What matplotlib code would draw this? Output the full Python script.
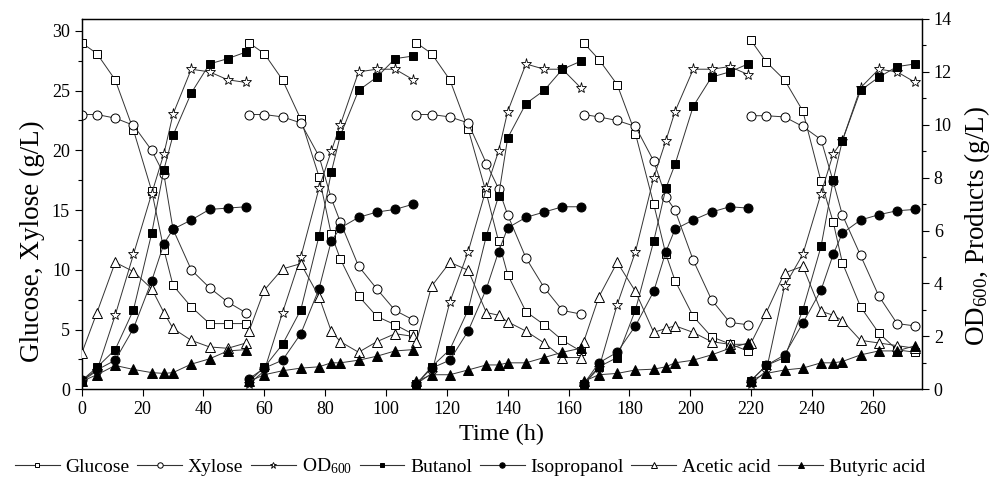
import numpy as np
import matplotlib
matplotlib.use("Agg")
import matplotlib.pyplot as plt
from matplotlib.lines import Line2D
from matplotlib.ticker import MultipleLocator

plt.rcParams['font.family'] = ['Liberation Serif', 'DejaVu Serif']
plt.rcParams['mathtext.fontset'] = 'custom'
plt.rcParams['mathtext.rm'] = 'Liberation Serif'
plt.rcParams['mathtext.it'] = 'Liberation Serif:italic'

# sampling hours within each batch, and the start of each batch
hours = [0, 5, 11, 17, 23, 27, 30, 36, 42, 48, 54]
batch_start = [0, 55, 110, 165, 220]

# left axis (g/L)
glucose = [
    [29.0, 28.1, 25.9, 21.7, 16.6, 11.7, 8.7, 6.9, 5.5, 5.5, 5.5],
    [29.0, 28.1, 25.9, 22.6, 17.8, 13.0, 10.9, 7.8, 6.1, 5.4, 4.6],
    [29.0, 28.1, 25.9, 21.8, 16.4, 12.4, 9.6, 6.5, 5.4, 4.1, 3.2],
    [29.0, 27.6, 25.5, 21.4, 15.5, 11.3, 9.1, 6.1, 4.4, 3.8, 3.2],
    [29.2, 27.4, 25.9, 23.3, 17.4, 14.0, 10.6, 6.9, 4.7, 3.3, 3.1],
]
xylose = [
    [23.0, 23.0, 22.7, 22.1, 20.0, 18.0, 13.4, 10.0, 8.5, 7.3, 6.4],
    [23.0, 23.0, 22.8, 22.3, 19.5, 16.0, 14.0, 10.3, 8.4, 6.6, 5.8],
    [23.0, 23.0, 22.8, 22.3, 18.9, 16.8, 14.6, 11.0, 8.5, 6.6, 6.3],
    [23.0, 22.8, 22.5, 22.0, 19.1, 16.1, 15.0, 10.8, 7.5, 5.6, 5.4],
    [22.9, 22.9, 22.8, 22.0, 20.9, 17.4, 14.6, 11.2, 7.8, 5.5, 5.3],
]

# right axis (OD600, g/L)
od600 = [
    [0.3, 0.7, 2.8, 5.1, 7.4, 8.9, 10.4, 12.1, 12.0, 11.7, 11.6],
    [0.2, 0.7, 2.9, 5.0, 7.6, 9.0, 10.0, 12.0, 12.1, 12.1, 11.7],
    [0.2, 0.6, 3.3, 5.2, 7.6, 9.0, 10.5, 12.3, 12.1, 12.1, 11.4],
    [0.2, 0.8, 3.2, 5.2, 8.0, 9.4, 10.5, 12.1, 12.1, 12.2, 11.9],
    [0.2, 0.7, 3.9, 5.1, 7.4, 8.9, 9.4, 11.4, 12.1, 12.0, 11.6],
]
butanol = [
    [0.33, 0.83, 1.5, 3.0, 5.9, 8.3, 9.6, 11.2, 12.3, 12.5, 12.75],
    [0.3, 0.83, 1.7, 3.0, 5.8, 8.2, 9.6, 11.3, 11.8, 12.5, 12.6],
    [0.2, 0.85, 1.5, 3.0, 5.8, 7.3, 9.5, 10.8, 11.3, 12.1, 12.4],
    [0.2, 0.85, 1.2, 3.0, 5.6, 7.6, 8.5, 10.7, 11.8, 12.0, 12.3],
    [0.33, 0.9, 1.2, 3.0, 5.4, 7.9, 9.4, 11.3, 11.8, 12.2, 12.3],
]
isopropanol = [
    [0.35, 0.73, 1.1, 2.3, 4.1, 5.5, 6.05, 6.4, 6.8, 6.85, 6.9],
    [0.4, 0.8, 1.1, 2.1, 3.8, 5.6, 6.1, 6.5, 6.7, 6.8, 7.0],
    [0.2, 0.8, 1.1, 2.2, 3.8, 5.2, 6.1, 6.5, 6.7, 6.9, 6.9],
    [0.2, 1.0, 1.4, 2.4, 3.7, 5.2, 6.05, 6.4, 6.7, 6.9, 6.85],
    [0.33, 0.9, 1.3, 2.5, 3.75, 5.1, 5.9, 6.4, 6.6, 6.75, 6.8],
]
acetic = [
    [1.36, 2.9, 4.8, 4.45, 3.8, 2.9, 2.3, 1.85, 1.6, 1.55, 1.75],
    [2.2, 3.75, 4.55, 4.75, 3.5, 2.2, 1.8, 1.4, 1.8, 2.1, 2.0],
    [1.8, 3.9, 4.8, 4.5, 2.9, 2.8, 2.55, 2.2, 1.75, 1.2, 1.2],
    [1.8, 3.5, 4.8, 3.7, 2.15, 2.3, 2.4, 2.15, 1.8, 1.7, 1.7],
    [1.75, 2.9, 4.4, 4.65, 2.95, 2.8, 2.6, 1.85, 1.75, 1.65, 1.55],
]
butyric = [
    [0.3, 0.55, 0.9, 0.75, 0.63, 0.6, 0.63, 0.95, 1.15, 1.45, 1.5],
    [0.3, 0.55, 0.7, 0.8, 0.85, 1.0, 1.0, 1.1, 1.25, 1.45, 1.5],
    [0.3, 0.55, 0.55, 0.73, 0.92, 0.92, 1.0, 1.0, 1.2, 1.4, 1.55],
    [0.3, 0.55, 0.6, 0.73, 0.76, 0.85, 1.0, 1.1, 1.3, 1.55, 1.75],
    [0.33, 0.6, 0.73, 0.8, 1.0, 1.0, 1.05, 1.3, 1.45, 1.45, 1.65],
]

fig = plt.figure(figsize=(9.98, 4.8), dpi=100)
ax = fig.add_axes([0.0819, 0.189, 0.842, 0.7715])
ax2 = ax.twinx()

line_kw = dict(color='#333333', lw=0.7)

series_left = [
    ("Glucose", glucose, dict(marker='s', ms=5.5, mfc='white', mec='black', mew=0.7)),
    ("Xylose", xylose, dict(marker='o', ms=6.5, mfc='white', mec='black', mew=0.7)),
]
series_right = [
    ("OD$_{600}$", od600, dict(marker='*', ms=8, mfc='white', mec='black', mew=0.6)),
    ("Butanol", butanol, dict(marker='s', ms=5.5, mfc='black', mec='black', mew=0.7)),
    ("Isopropanol", isopropanol, dict(marker='o', ms=6.5, mfc='black', mec='black', mew=0.7)),
    ("Acetic acid", acetic, dict(marker='^', ms=7, mfc='white', mec='black', mew=0.7)),
    ("Butyric acid", butyric, dict(marker='^', ms=7, mfc='black', mec='black', mew=0.7)),
]

# each batch is drawn on its own so the curves break between batches
styles = {}
for name, data, mk in series_left:
    for b, start in enumerate(batch_start):
        t = [start + h for h in hours]
        ax.plot(t, data[b], **line_kw, **mk, zorder=3)
    styles[name] = mk
for name, data, mk in series_right:
    for b, start in enumerate(batch_start):
        t = [start + h for h in hours]
        ax2.plot(t, data[b], **line_kw, **mk, zorder=3)
    styles[name] = mk

ax.set_xlim(0, 276.2)
ax.set_ylim(0, 31)
ax2.set_ylim(0, 14)

ax.xaxis.set_major_locator(MultipleLocator(20))
ax.yaxis.set_major_locator(MultipleLocator(5))
ax.yaxis.set_minor_locator(MultipleLocator(2.5))
ax2.yaxis.set_major_locator(MultipleLocator(2))
ax2.yaxis.set_minor_locator(MultipleLocator(1))

for a in (ax, ax2):
    a.tick_params(which='major', direction='out', length=5, width=0.8, labelsize=13)
    a.tick_params(which='minor', direction='out', length=3, width=0.8)
    for s in a.spines.values():
        s.set_linewidth(0.9)

ax.set_xlabel("Time (h)", fontsize=17.5, labelpad=4)
ax.set_ylabel("Glucose, Xylose (g/L)", fontsize=19.5)
ax2.set_ylabel("OD$_{600}$, Products (g/L)", fontsize=19.5)
ax.yaxis.set_label_coords(-0.044, 0.40)
ax2.yaxis.set_label_coords(1.047, 0.44)

names = ["Glucose", "Xylose", "OD$_{600}$", "Butanol", "Isopropanol", "Acetic acid", "Butyric acid"]
leg_handles = []
for n in names:
    mk = dict(styles[n])
    mk['ms'] = mk['ms'] * 0.6
    leg_handles.append(Line2D([], [], color='#333333', lw=0.8, **mk))
fig.legend(leg_handles, names, loc='center', bbox_to_anchor=(0.471, 0.028), ncol=7,
           frameon=False, fontsize=14, handlelength=2.3, handletextpad=0.3,
           columnspacing=0.4)

fig.savefig("out.png", dpi=100)
